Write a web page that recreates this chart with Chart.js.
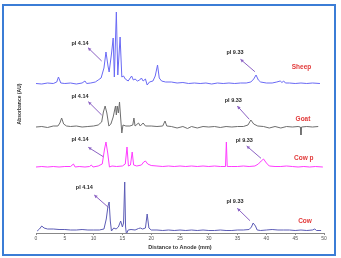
<!DOCTYPE html>
<html>
<head>
<meta charset="utf-8">
<script src="https://cdn.jsdelivr.net/npm/chart.js@4.4.1/dist/chart.umd.min.js"></script>
<style>
  html, body { margin: 0; padding: 0; background: #fff; }
  #wrap { width: 341px; height: 258px; position: relative; }
</style>
</head>
<body>
<div id="wrap"><canvas id="ief"></canvas></div>
<script>
// distance to anode (mm) and absorbance above each trace's own baseline
var sheepDist = [0, 1, 2, 3, 3.6, 3.9, 4.3, 5, 6, 7, 8, 8.5, 8.8, 9.5, 10.3, 10.8, 11.3, 11.8, 12.15, 12.5, 12.7, 13.1, 13.4, 13.6, 13.95, 14.2, 14.6, 14.9, 15.2, 15.5, 16, 16.6, 16.9, 17.2, 17.6, 18, 18.3, 18.6, 19, 19.3, 19.7, 20.3, 20.7, 21.1, 21.4, 21.8, 22.5, 23.5, 24.5, 25.5, 26.5, 27.5, 28.5, 29.5, 30.5, 31.5, 32.5, 33.5, 34.5, 35.5, 36.5, 37.3, 37.8, 38.2, 38.6, 39, 40, 41, 41.8, 42.4, 42.7, 43, 43.3, 44, 45, 46, 47, 48, 49.3];
var sheepAbs  = [0.5, 0, 1, 0.5, 2, 7, 1, 0.5, 1, 0, 1, 3, 0.5, 1, 2, 4, 6, 16, 32, 18, 12, 30, 46, 7, 72, 9, 47, 7, 8, 5, 3, 8, 4, 5, 3, 4, 6, 3, 5, -1, 2, 3, 8, 19, 6, 3, 2, 2, 1, 1.5, 0.5, 1, 0.5, 1, 0, 1, 0.5, 1, 0.5, 1, 1, 2, 5, 9, 4, 2, 1, 1, 2, 3, 1.5, 3, 1, 1, 0.5, 1, 0.5, 1, 0.5];

var goatDist = [0, 1, 2, 3, 3.8, 4.15, 4.45, 4.8, 5.3, 6, 7, 8, 9, 10, 10.8, 11.4, 11.7, 12, 12.3, 12.65, 13, 13.4, 13.8, 13.95, 14.1, 14.3, 14.5, 14.75, 14.9, 15.1, 15.6, 16.3, 16.8, 17, 17.2, 17.8, 18.1, 18.6, 19, 20, 21, 22, 22.4, 22.7, 23.5, 24.5, 25.5, 26.3, 27, 28, 29, 30, 31, 32, 33, 34, 35, 36, 36.8, 37.3, 37.8, 38.5, 39.5, 40.5, 41.5, 42.5, 43.5, 44.5, 45.5, 45.9, 46, 46.1, 47, 48, 49];
var goatAbs  = [0, 0.5, -0.5, 1, 1, 4, 9, 3, 1, 0.5, 1, 0, 0.5, 1, 2, 5, 15, 21, 14, 1, 3, 10, 21, 12, 21, 14, 25, 5, -6, 2, 1, 1, 2, 9, 1, 4, 1, 4, 1, 1, 0.5, 1, 6, 1, 0.5, -1, 0.5, -1.5, 0.5, -1, 0.5, 0, 0.5, -0.5, 0.5, 0, 0.5, 0.5, 2, 7, 3, 1, 0.5, -1, 0.5, -1, 0.5, 0, 0.5, 0, -8, 0, 0.5, 0, 0.5];

var cowPDist = [0, 1, 2, 3, 4, 5, 6, 6.5, 6.8, 7.5, 8.5, 9.3, 9.6, 9.9, 10.8, 11.5, 11.9, 12.15, 12.45, 12.75, 13.2, 14, 15, 15.5, 15.8, 16.05, 16.4, 16.7, 16.95, 17.5, 18.3, 18.7, 19, 19.4, 20, 21, 22, 23, 24, 25, 26, 27, 28, 29, 30, 31, 32, 32.9, 33.05, 33.2, 34, 35, 36, 37, 38, 38.6, 39.1, 39.5, 40, 40.5, 41.5, 42.5, 43.5, 44.5, 45.5, 46.5, 47.5, 48.5, 49.8];
var cowPAbs  = [0, 0.5, 0, 0.5, 0, 0.5, 0.5, 3, 0, 0.5, 0, 0.5, 2, 0, 1, 3, 18, 25, 14, 0, 1, 0.5, 1, 3, 20, 1, 2, 15, 2, 1, 2, 5, 6, 3, 1.5, 1, 0.5, 1, 0.5, 1, 0.5, 1, 0.5, 1, 0.5, 1, 0.5, 0.5, 25, 0.5, 0.5, 0.5, 1, 0.5, 1, 3, 6, 8, 4, 1, 0.5, 0.5, 1, 0.5, 0, 0.5, 0, 0.5, 0];

var cowDist = [0.2, 0.6, 1, 1.4, 2, 3, 4, 5, 6, 7, 8, 9, 10, 11, 11.8, 12.2, 12.5, 12.7, 12.9, 13.1, 13.5, 13.9, 14.3, 14.7, 15, 15.2, 15.4, 15.55, 15.7, 16, 16.5, 17.2, 17.8, 18.1, 18.5, 19, 19.3, 19.6, 20, 21, 22, 23, 24, 25, 26, 27, 28, 29, 30, 31, 32, 33, 34, 35, 36, 37, 37.4, 37.7, 38.1, 38.4, 39, 40, 41, 42, 43, 44, 45, 46, 47, 48, 48.4, 48.7, 49.5];
var cowAbs  = [0, 2, 5, 3, 2, 2, 1.5, 1.5, 1, 1, 1.5, 1, 1, 1, 2, 12, 25, 29, 10, 0, 3, 2, 4, 10, 4, 8, 49, 4, -3, 1, 1.5, 1, 2.5, 3, 2, 3, 17, 3, 1, 1, 0.5, 1, 0.5, 1, 0.5, 1, 0.5, 1, 0.5, 0.5, 1, 0.5, 0.5, 1, 1, 1.5, 4, 8, 5, 1, 0.5, 1, 1.5, 1, 1, 1, 0.5, 1, 0.5, 1, 2, 0.5, 0.5];

var seriesNames = ['Sheep', 'Goat', 'Cow p', 'Cow'];
var seriesColors = ['#6a6af5', '#6e6e6e', '#ff3cff', '#5c5cb6'];
// vertical stacking of the traces
var seriesOffsets = [149, 106, 66, 2];

var xTicks = [0, 5, 10, 15, 20, 25, 30, 35, 40, 45, 50];

// pI callouts: label position and arrow (tail -> head), in chart units
var pIMarks = [
    { text: 'pI 4.14', at: [7.64, 190], tail: [11.4, 172], head: [9.03, 185.3] },
    { text: 'pI 9.33', at: [34.55, 180.3], tail: [38.0, 161.3], head: [35.5, 173.7] },
    { text: 'pI 4.14', at: [7.64, 137], tail: [11.4, 118], head: [9.08, 131.3] },
    { text: 'pI 9.33', at: [34.25, 133], tail: [37.03, 113.7], head: [34.95, 127] },
    { text: 'pI 4.14', at: [7.64, 93.7], tail: [11.68, 76.3], head: [9.08, 85.7] },
    { text: 'pI 9.33', at: [36.16, 93], tail: [39.06, 74.7], head: [36.58, 87] },
    { text: 'pI 4.14', at: [8.39, 45.3], tail: [12.55, 25.7], head: [10.12, 38] },
    { text: 'pI 9.33', at: [34.55, 32], tail: [37.15, 12.3], head: [34.95, 24.7] }
];
var nameSpots = [[46.1, 166], [46.35, 114], [46.5, 75], [46.7, 12]];

function toPoints(dist, abs, off) {
    var pts = [];
    for (var i = 0; i < dist.length; i++) {
        pts.push({ x: dist[i], y: abs[i] + off });
    }
    return pts;
}

var dists = [sheepDist, goatDist, cowPDist, cowDist];
var absorb = [sheepAbs, goatAbs, cowPAbs, cowAbs];
var datasets = seriesNames.map(function (name, i) {
    return {
        label: name,
        data: toPoints(dists[i], absorb[i], seriesOffsets[i]),
        borderColor: seriesColors[i],
        borderWidth: 1,
        pointRadius: 0,
        tension: 0,
        fill: false
    };
});

var extras = {
    id: 'extras',
    beforeDraw: function (chart) {
        var ctx = chart.ctx;
        ctx.save();
        ctx.fillStyle = '#ffffff';
        ctx.fillRect(0, 0, chart.width, chart.height);
        ctx.restore();
    },
    afterDraw: function (chart) {
        var ctx = chart.ctx;
        var xs = chart.scales.x, ys = chart.scales.y;
        ctx.save();

        // frame
        ctx.strokeStyle = '#3b7dd6';
        ctx.lineWidth = 2;
        ctx.strokeRect(3, 5, 332, 250);

        // y title
        ctx.save();
        ctx.translate(20, 104);
        ctx.rotate(-Math.PI / 2);
        ctx.fillStyle = '#333';
        ctx.font = 'bold 5px "Liberation Sans", Arial, sans-serif';
        ctx.textAlign = 'center';
        ctx.textBaseline = 'middle';
        ctx.fillText('Absorbance (AU)', 0, 0);
        ctx.restore();

        // pI callouts
        pIMarks.forEach(function (m) {
            var tx = xs.getPixelForValue(m.tail[0]), ty = ys.getPixelForValue(m.tail[1]);
            var hx = xs.getPixelForValue(m.head[0]), hy = ys.getPixelForValue(m.head[1]);
            ctx.strokeStyle = '#8c62c4';
            ctx.fillStyle = '#8c62c4';
            ctx.lineWidth = 1;
            ctx.beginPath();
            ctx.moveTo(tx, ty);
            ctx.lineTo(hx, hy);
            ctx.stroke();
            var a = Math.atan2(hy - ty, hx - tx);
            ctx.beginPath();
            ctx.moveTo(hx, hy);
            ctx.lineTo(hx - 3.5 * Math.cos(a - 0.5), hy - 3.5 * Math.sin(a - 0.5));
            ctx.lineTo(hx - 3.5 * Math.cos(a + 0.5), hy - 3.5 * Math.sin(a + 0.5));
            ctx.closePath();
            ctx.fill();

            ctx.fillStyle = '#2b2b2b';
            ctx.font = 'bold 5.5px "Liberation Sans", Arial, sans-serif';
            ctx.textAlign = 'center';
            ctx.textBaseline = 'middle';
            ctx.fillText(m.text, xs.getPixelForValue(m.at[0]), ys.getPixelForValue(m.at[1]));
        });

        // trace names
        ctx.fillStyle = '#e23a3a';
        ctx.font = 'bold 6.5px "Liberation Sans", Arial, sans-serif';
        ctx.textAlign = 'center';
        ctx.textBaseline = 'middle';
        seriesNames.forEach(function (name, i) {
            ctx.fillText(name, xs.getPixelForValue(nameSpots[i][0]), ys.getPixelForValue(nameSpots[i][1]));
        });
        ctx.restore();
    }
};

document.addEventListener('DOMContentLoaded', function () {
    var ctx = document.getElementById('ief').getContext('2d');
    new Chart(ctx, {
        type: 'line',
        data: { datasets: datasets },
        plugins: [extras],
        options: {
            responsive: true,
            maintainAspectRatio: false,
            animation: false,
            layout: { padding: { left: 36, right: 17, top: 8, bottom: 0 } },
            plugins: {
                legend: { display: false },
                tooltip: { enabled: false }
            },
            scales: {
                x: {
                    type: 'linear',
                    min: 0,
                    max: 50,
                    afterBuildTicks: function (scale) {
                        scale.ticks = xTicks.map(function (v) { return { value: v }; });
                    },
                    afterFit: function (scale) { scale.height = 25; },
                    grid: { drawOnChartArea: false, drawTicks: true, tickLength: 2, color: '#888' },
                    border: { display: true, color: '#888', width: 1 },
                    ticks: {
                        padding: 1,
                        color: '#555',
                        font: { size: 5, family: '"Liberation Sans", Arial, sans-serif' },
                        maxRotation: 0
                    },
                    title: {
                        display: true,
                        text: 'Distance to Anode (mm)',
                        color: '#333',
                        font: { size: 5.5, weight: 'bold', family: '"Liberation Sans", Arial, sans-serif' },
                        padding: { top: 0, bottom: 7 }
                    }
                },
                y: {
                    display: false,
                    min: 0,
                    max: 225
                }
            }
        }
    });
});
</script>
</body>
</html>
